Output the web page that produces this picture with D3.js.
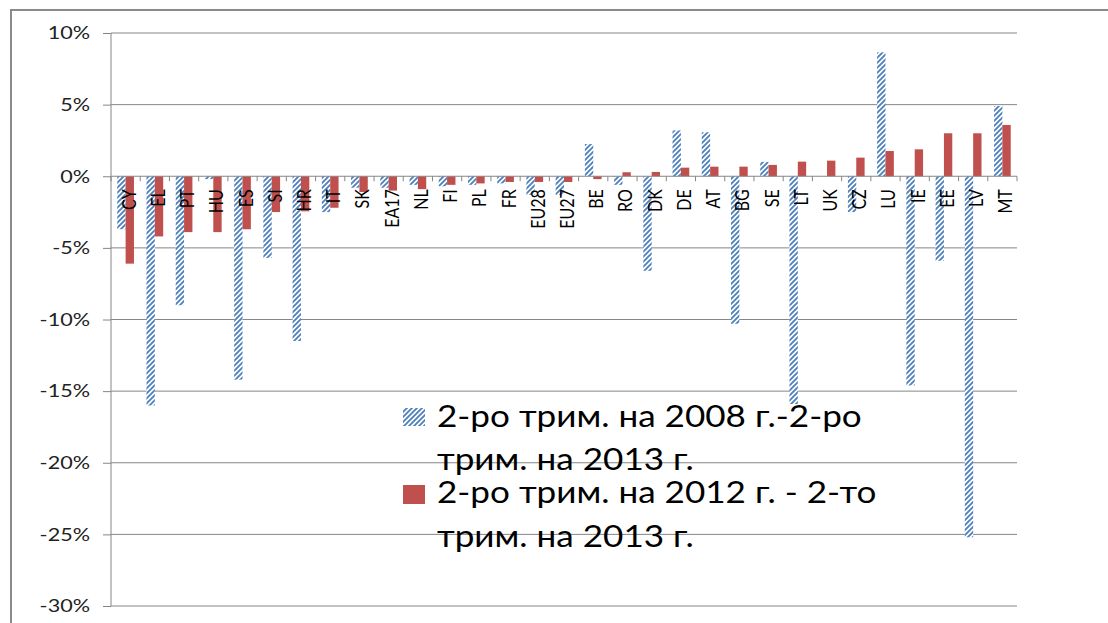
<!DOCTYPE html>
<html><head><meta charset="utf-8">
<script src="https://cdn.jsdelivr.net/npm/d3@7"></script>
<style>body{margin:0;background:#fff;} svg{display:block;font-family:Lato,"Open Sans",sans-serif;}</style>
</head><body>
<script>
const categories = ["CY","EL","PT","HU","ES","SI","HR","IT","SK","EA17","NL","FI","PL","FR","EU28","EU27","BE","RO","DK","DE","AT","BG","SE","LT","UK","CZ","LU","IE","EE","LV","MT"];
const series2008 = [-3.7,-16.0,-9.0,-0.2,-14.2,-5.7,-11.5,-2.5,-0.8,-0.8,-0.6,-0.7,-0.6,-0.5,-1.3,-1.3,2.25,-0.6,-6.6,3.2,3.07,-10.3,1.0,-15.9,0.0,-2.5,8.65,-14.6,-5.9,-25.2,4.9];
const series2012 = [-6.1,-4.2,-3.9,-3.9,-3.7,-2.5,-2.45,-2.2,-1.1,-1.0,-0.9,-0.6,-0.5,-0.4,-0.4,-0.4,-0.2,0.28,0.3,0.6,0.67,0.67,0.79,1.02,1.09,1.3,1.76,1.88,3.0,3.0,3.58];
const yTicks = [10,5,0,-5,-10,-15,-20,-25,-30];
const legendLabels = [["2-ро трим. на 2008 г.-2-ро","трим. на 2013 г."],["2-ро трим. на 2012 г. - 2-то","трим. на 2013 г."]];

const W=1108,H=623;
const svg=d3.select("body").append("svg").attr("width",W).attr("height",H);
const defs=svg.append("defs");
const pat=defs.append("pattern").attr("id","hatch").attr("patternUnits","userSpaceOnUse").attr("width",5).attr("height",5);
pat.append("rect").attr("width",5).attr("height",5).attr("fill","#fff");
pat.append("path").attr("d","M-1,1 l2,-2 M0,5 l5,-5 M4,6 l2,-2").attr("stroke","#4F81BD").attr("stroke-width",1.9);

// outer frame
svg.append("path").attr("d","M11,"+H+" V10 H"+W).attr("fill","none").attr("stroke","#8a8a8a").attr("stroke-width",2);

const x0=111,x1=1017,yTop=33,yBot=606;
const y=d3.scaleLinear().domain([-30,10]).range([yBot,yTop]);
const x=d3.scaleBand().domain(categories).range([x0,x1]);
const bw=x.bandwidth()*0.2857;

const ax=svg.append("g").attr("transform","translate("+x0+",0)")
  .call(d3.axisLeft(y).tickValues(yTicks).tickSize(8).tickFormat(d=>d+"%").tickPadding(13));
ax.select(".domain").attr("stroke","#868686").attr("d","M0,"+yTop+"V"+yBot);
ax.selectAll(".tick line").attr("stroke","#868686");
ax.selectAll(".tick text").attr("font-size",18).attr("fill","#222").attr("font-family","Lato")
  .attr("x",0).attr("transform","translate(-21,0) scale(1.2,1)");
svg.append("g").selectAll("line").data(yTicks.filter(d=>d!==0)).join("line")
  .attr("x1",x0).attr("x2",x1).attr("y1",d=>y(d)).attr("y2",d=>y(d)).attr("stroke","#868686");

const g=svg.append("g");
g.selectAll(".b1").data(categories).join("rect")
  .attr("x",(d)=>x(d)+x.bandwidth()/2-bw).attr("width",bw)
  .attr("y",(d,i)=>y(Math.max(0,series2008[i]))).attr("height",(d,i)=>Math.abs(y(series2008[i])-y(0)))
  .attr("fill","url(#hatch)");
g.selectAll(".b2").data(categories).join("rect")
  .attr("x",(d)=>x(d)+x.bandwidth()/2).attr("width",bw)
  .attr("y",(d,i)=>y(Math.max(0,series2012[i]))).attr("height",(d,i)=>Math.abs(y(series2012[i])-y(0)))
  .attr("fill","#C0504D");

const zx=svg.append("g").attr("transform","translate(0,"+y(0)+")")
  .call(d3.axisBottom(x).tickSize(0).tickFormat(""));
zx.select(".domain").attr("stroke","#868686").attr("d","M"+x0+",0H"+x1);
svg.append("g").selectAll("line").data(d3.range(categories.length+1)).join("line")
  .attr("x1",i=>x0+i*x.step()).attr("x2",i=>x0+i*x.step()).attr("y1",y(0)).attr("y2",y(0)+5).attr("stroke","#868686");
svg.append("g").selectAll("text").data(categories).join("text")
  .attr("transform",d=>"translate("+(x(d)+x.bandwidth()/2+10)+","+(y(0)+13)+") rotate(-90) scale(1,1.2)")
  .attr("text-anchor","end").attr("font-size",16).attr("fill","#000").text(d=>d);

const lg=svg.append("g");
lg.append("rect").attr("x",403).attr("y",408).attr("width",22).attr("height",18).attr("fill","url(#hatch)");
lg.append("rect").attr("x",403).attr("y",485).attr("width",22).attr("height",19).attr("fill","#C0504D");
const base=[[427,470],[503,547]];
legendLabels.forEach((ls,i)=>ls.forEach((t,j)=>{
  lg.append("text").attr("transform","translate(437,"+base[i][j]+") scale(1.17,1)")
    .attr("font-size",30).attr("fill","#000").text(t);
}));
</script>
</body></html>
